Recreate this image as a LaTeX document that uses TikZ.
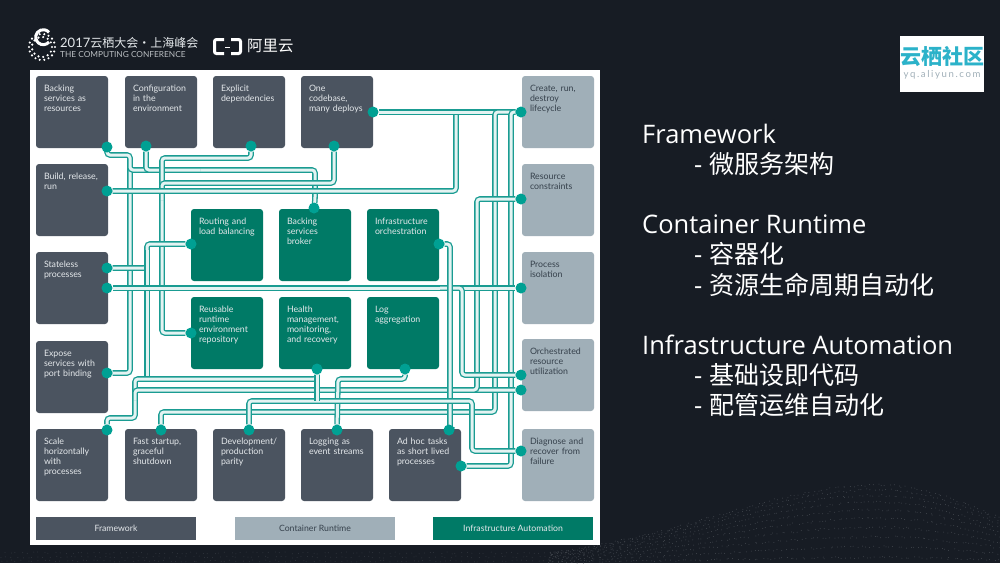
\documentclass[tikz,border=0pt]{standalone}
\usepackage{fontspec}
\setmainfont{Lato}
\newfontfamily\cjkfont{Noto Sans CJK SC}
\newfontfamily\sidefont{Open Sans}
\usepackage{xcolor}
\usetikzlibrary{positioning,calc}
\definecolor{night}{HTML}{171C24}
\definecolor{slate}{HTML}{4B5460}
\definecolor{mist}{HTML}{A0AFB8}
\definecolor{pine}{HTML}{007A66}
\definecolor{wirecol}{HTML}{1A9C92}
\definecolor{tapcol}{HTML}{00A093}
\definecolor{ink}{HTML}{36414C}
\definecolor{paleink}{HTML}{E4E8EB}
\definecolor{speckcol}{HTML}{41464D}
\definecolor{cloud}{HTML}{2BB2C9}
\pgfdeclarelayer{back}
\pgfdeclarelayer{wires}
\pgfsetlayers{back,wires,main}
\newcommand{\sidecjk}[1]{\hspace*{52pt}- {\cjkfont\fontsize{25}{30.1}\selectfont #1}}
\tikzset{
  cell/.style={rounded corners=3pt,align=left,text width=56pt,inner xsep=8pt,inner ysep=9pt,outer sep=0pt,
               text height=6pt,text depth=48pt,font=\fontsize{8.8}{10}\selectfont},
  fwbox/.style={cell,fill=slate,text=paleink},
  rtbox/.style={cell,fill=mist,text=ink},
  iabox/.style={cell,fill=pine,text=paleink},
  legendbar/.style={minimum width=160pt,minimum height=23pt,inner sep=0pt,outer sep=0pt,font=\fontsize{8.7}{10}\selectfont},
  tap/.style={circle,fill=tapcol,minimum size=11pt,inner sep=0pt},
  wire/.style={draw=wirecol,line width=1.3pt,double=wirecol!12!white,double distance=3pt,rounded corners=3pt},
  speck/.style={fill=speckcol},
}
\begin{document}
\begin{tikzpicture}[x=1pt,y=-1pt,node distance=16pt]
  \useasboundingbox (0,0) rectangle (1000,563);
  \begin{pgfonlayer}{back}
    \fill[night] (0,0) rectangle (1000,563);
    \pgfmathsetseed{7}
    \foreach \i in {0,...,115} \foreach \j in {0,...,9}{
      \pgfmathsetmacro\hx{550+4*\i}
      \pgfmathsetmacro\hy{563-79*exp(-((\hx-880)/(\hx<880?232:163))^2)}
      \fill[speck] ({\hx+rand*2},{\hy+(563-\hy)*((\j+.5)/10)^1.4+rand}) circle (.5);
    }
    \foreach \i in {0,...,100} \foreach \j in {0,1,2}
      \fill[speck,opacity=.6] ({5.5*\i+rand*2},{553+4*\j+rand}) circle (.5);
    \fill[white] (30,70) rectangle (600,545);
  \end{pgfonlayer}

  % header
  \foreach \r/\n in {13/18,10/13} \foreach \k in {1,...,\n}
    \fill[white] ($(42,47)+({360*\k/\n}:\r)$) circle (1.2);
  \draw[white,line width=3pt] (49,42) arc (40:320:7.5);
  \node[text=paleink,anchor=west,inner sep=0pt,font=\fontsize{13}{16}\selectfont] (title) at (60,43)
    {2017{\cjkfont\fontsize{12}{16}\selectfont 云栖大会·上海峰会}};
  \node[text=paleink!80!night,anchor=west,inner sep=0pt,font=\fontsize{8.3}{9}\selectfont] (subtitle) at (60,55)
    {THE COMPUTING CONFERENCE};
  \draw[white,line width=3pt,rounded corners=2pt] (224,39.5) -- (214.5,39.5) -- (214.5,53.5) -- (224,53.5);
  \draw[white,line width=3pt,rounded corners=2pt] (231,39.5) -- (240.5,39.5) -- (240.5,53.5) -- (231,53.5);
  \draw[white,line width=1pt] (225,47) -- (230,47);
  \node[text=white,anchor=west,inner sep=0pt,font=\cjkfont\fontsize{15.4}{17}\selectfont] (aliyun) at (247,46) {阿里云};
  \fill[white] (900,36) rectangle (984,92);
  \node[text=cloud,inner sep=0pt,font=\cjkfont\bfseries\fontsize{21}{24}\selectfont] (brand) at (942,57) {云栖社区};
  \node[text=mist,inner sep=0pt,font=\fontsize{9.6}{11}\selectfont] (brandurl) at (942,75) {y\,q\,.\,a\,l\,i\,y\,u\,n\,.\,c\,o\,m};

  % framework boxes
  \node[fwbox] (backing) at (72,112) {Backing\\services as\\resources};
  \node[fwbox,right=17pt of backing] (config) {Configuration\\in the\\environment};
  \node[fwbox,right=of config] (explicit) {Explicit\\dependencies};
  \node[fwbox,right=of explicit] (codebase) {One\\codebase,\\many deploys};
  \node[fwbox,below=of backing] (build) {Build, release,\\run};
  \node[fwbox,below=of build] (stateless) {Stateless\\processes};
  \node[fwbox,below=17pt of stateless] (expose) {Expose\\services with\\port binding};
  \node[fwbox,below=of expose] (scale) {Scale\\horizontally\\with\\processes};
  \node[fwbox,right=17pt of scale] (startup) {Fast startup,\\graceful\\shutdown};
  \node[fwbox,right=of startup] (devprod) {Development/\\production\\parity};
  \node[fwbox,right=of devprod] (logging) {Logging as\\event streams};
  \node[fwbox,right=of logging] (adhoc) {Ad hoc tasks\\as short lived\\processes};

  % container runtime boxes
  \node[rtbox] (create) at (558,112) {Create, run,\\destroy\\lifecycle};
  \node[rtbox,below=of create] (constraints) {Resource\\constraints};
  \node[rtbox,below=of constraints] (isolation) {Process\\isolation};
  \node[rtbox,below=15pt of isolation] (orchestrated) {Orchestrated\\resource\\utilization};
  \node[rtbox,below=18pt of orchestrated] (diagnose) {Diagnose and\\recover from\\failure};

  % infrastructure boxes
  \node[iabox] (routing) at (227,245) {Routing and\\load balancing};
  \node[iabox,right=of routing] (broker) {Backing\\services\\broker};
  \node[iabox,right=of broker] (infra) {Infrastructure\\orchestration};
  \node[iabox,below=of routing] (reusable) {Reusable\\runtime\\environment\\repository};
  \node[iabox,right=of reusable] (health) {Health\\management,\\monitoring,\\and recovery};
  \node[iabox,right=of health] (logagg) {Log\\aggregation};

  % legend
  \node[legendbar,fill=slate,text=paleink] (legendfw) at (116,528.5) {Framework};
  \node[legendbar,fill=mist,text=ink,right=39pt of legendfw] (legendrt) {Container Runtime};
  \node[legendbar,fill=pine,text=paleink,right=38pt of legendrt] (legendia) {Infrastructure Automation};

  % taps
  \foreach \n/\p in {Backing/{107,147},Config/{146,146},Explicit/{251,146},Codebase/{334,146},CodebaseB/{373,112},
      Build/{107,191},StateA/{107,268},StateB/{107,288},Expose/{107,373},Scale/{107,430},Startup/{161,430},
      Devprod/{249,430},Logging/{337,430},AdhocT/{449,430},AdhocB/{461,466},
      Create/{521,112},Constraints/{521,199},Isolation/{521,288},UtilA/{521,375},UtilB/{521,390},Diagnose/{521,451},
      Routing/{191,244},Broker/{314,208},Infra/{439,244},Reusable/{191,333},Health/{317,369},Log/{405,369}}
    \node[tap] (tap\n) at (\p) {};

  % wiring
  \begin{pgfonlayer}{wires}
    \draw[wire] (tapBacking) |- (130,155) -- (130,373) -- (tapExpose);
    \draw[wire] (130,160) |- (315,170) -- (315,200) -- (tapBroker);
    \draw[wire] (tapConfig) |- (200,170);
    \draw[wire] (tapExplicit) |- (162,158) -- (162,333) -- (tapReusable);
    \draw[wire] (tapCodebase) |- (162,183) -- (162,200);
    \draw[wire] (tapBuild) -| (456,112) -- (tapCreate);
    \draw[wire] (tapCodebaseB) -- (tapCreate);
    \draw[wire] (tapStartup) |- (495,412) |- (tapCreate);
    \draw[wire] (tapAdhocB) -| (511,112) -- (tapCreate);
    \draw[wire] (tapStateA) -| (147,244) -- (tapRouting);
    \draw[wire] (147,250) -- (147,379);
    \draw[wire] (tapScale) |- (135,418) -- (135,379) -| (tapHealth);
    \draw[wire] (135,400) |- (tapUtilB);
    \draw[wire] (tapConstraints) -| (477,390) -- (440,390);
    \draw[wire] (tapStateB) -- (tapIsolation);
    \draw[wire] (440,288) -| (462,375) -- (tapUtilA);
    \draw[wire] (tapInfra) -| (450,430) -- (tapAdhocT);
    \draw[wire] (tapLog) |- (338,379) -- (tapLogging);
    \draw[wire] (tapDevprod) |- (472,401) |- (tapDiagnose);
    \draw[wire] (tapHealth) -- (317,401);
  \end{pgfonlayer}

  % side text
  \node[text=white,anchor=north west,inner sep=0pt,align=left,font=\sidefont\fontsize{25.5}{30.1}\selectfont] (sidenote) at (642,124)
    {Framework\\
     \sidecjk{微服务架构}\\[30.1pt]
     Container Runtime\\
     \sidecjk{容器化}\\
     \sidecjk{资源生命周期自动化}\\[30.1pt]
     Infrastructure Automation\\
     \sidecjk{基础设即代码}\\
     \sidecjk{配管运维自动化}};
\end{tikzpicture}
\end{document}
